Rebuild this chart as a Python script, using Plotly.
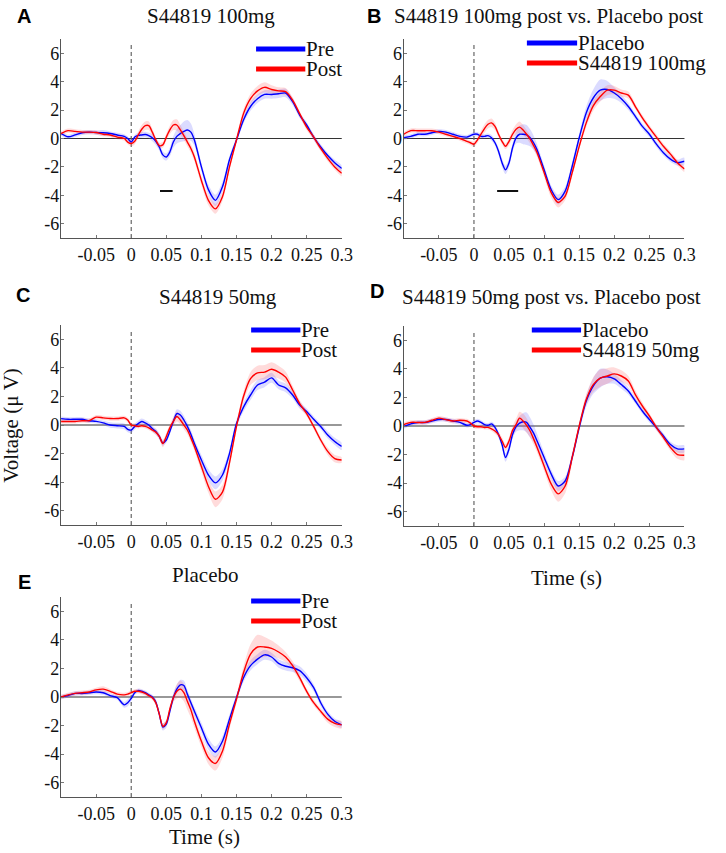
import plotly.graph_objects as go

W, H = 726, 853

# ---------------- data ----------------
T = [-0.1, -0.09, -0.08, -0.07, -0.06, -0.05, -0.04, -0.03, -0.02, -0.01,
     -0.005, 0, 0.005, 0.01, 0.015, 0.02, 0.025, 0.03, 0.035, 0.04,
     0.045, 0.05, 0.055, 0.06, 0.065, 0.07, 0.075, 0.08, 0.085, 0.09,
     0.1, 0.11, 0.12, 0.13, 0.14, 0.15, 0.16, 0.17, 0.18, 0.19,
     0.2, 0.21, 0.22, 0.23, 0.24, 0.25, 0.26, 0.27, 0.28, 0.29, 0.3]

A_pre = [0.35, 0.12, 0.25, 0.4, 0.45, 0.42, 0.4, 0.35, 0.25, 0.15,
         0.0, -0.25, 0.1, 0.22, 0.25, 0.28, 0.2, 0.05, -0.2, -0.6,
         -1.15, -1.3, -0.95, -0.25, 0.15, 0.35, 0.5, 0.6, 0.45, -0.1,
         -2.0, -3.6, -4.35, -3.4, -1.5, -0.1, 1.3, 2.25, 2.8, 3.1,
         3.1, 3.15, 3.2, 2.6, 1.65, 0.95, 0.1, -0.6, -1.2, -1.7, -2.1]
A_pre_sem = [0.15, 0.15, 0.15, 0.15, 0.15, 0.15, 0.2, 0.15, 0.15, 0.15,
             0.15, 0.15, 0.15, 0.2, 0.2, 0.2, 0.2, 0.25, 0.25, 0.25,
             0.25, 0.25, 0.3, 0.4, 0.5, 0.6, 0.7, 0.7, 0.6, 0.4,
             0.3, 0.35, 0.4, 0.35, 0.25, 0.2, 0.25, 0.3, 0.3, 0.3,
             0.3, 0.3, 0.3, 0.25, 0.2, 0.2, 0.2, 0.2, 0.2, 0.2, 0.2]
A_post = [0.35, 0.55, 0.5, 0.45, 0.45, 0.42, 0.3, 0.25, 0.1, 0.0,
          -0.25, -0.35, -0.2, 0.25, 0.65, 0.9, 0.9, 0.45, -0.1, -0.5,
          -0.45, 0.1, 0.6, 0.95, 0.95, 0.6, 0.2, -0.25, -0.7, -1.3,
          -2.95, -4.35, -4.95, -4.1, -2.0, -0.1, 1.75, 2.8, 3.35, 3.6,
          3.45, 3.35, 3.3, 2.7, 1.75, 0.8, 0.1, -0.7, -1.4, -2.0, -2.45]
A_post_sem = [0.15, 0.15, 0.15, 0.15, 0.15, 0.15, 0.15, 0.15, 0.15, 0.15,
              0.15, 0.2, 0.2, 0.25, 0.3, 0.3, 0.3, 0.25, 0.2, 0.2,
              0.2, 0.25, 0.3, 0.35, 0.4, 0.35, 0.3, 0.3, 0.3, 0.3,
              0.3, 0.35, 0.35, 0.3, 0.25, 0.2, 0.3, 0.35, 0.35, 0.35,
              0.3, 0.25, 0.25, 0.2, 0.2, 0.2, 0.2, 0.2, 0.2, 0.2, 0.2]

B_pla = [0.05, 0.15, 0.3, 0.3, 0.4, 0.5, 0.45, 0.3, 0.15, 0.1,
         0.2, 0.3, 0.3, 0.15, 0.15, 0.2, 0.05, -0.3, -0.9, -1.7,
         -2.2, -1.7, -0.65, 0.05, 0.3, 0.3, 0.25, 0.05, -0.3, -0.8,
         -2.2, -3.6, -4.3, -3.7, -1.95, 0.05, 1.8, 2.85, 3.4, 3.45,
         3.2, 2.8, 2.25, 1.55, 0.85, 0.3, -0.4, -1.0, -1.45, -1.7, -1.6]
B_pla_sem = [0.15, 0.15, 0.15, 0.15, 0.15, 0.15, 0.15, 0.15, 0.15, 0.15,
             0.15, 0.15, 0.15, 0.15, 0.15, 0.15, 0.2, 0.2, 0.25, 0.3,
             0.3, 0.3, 0.3, 0.4, 0.6, 0.7, 0.7, 0.6, 0.5, 0.4,
             0.3, 0.3, 0.35, 0.3, 0.3, 0.3, 0.45, 0.6, 0.75, 0.6,
             0.4, 0.3, 0.25, 0.2, 0.2, 0.2, 0.2, 0.2, 0.2, 0.2, 0.25]
B_drug = [0.3, 0.55, 0.55, 0.55, 0.55, 0.45, 0.3, 0.15, 0.0, -0.2,
          -0.3, -0.4, -0.1, 0.3, 0.7, 1.0, 1.1, 0.85, 0.3, -0.2,
          -0.55, -0.2, 0.3, 0.65, 0.8, 0.6, 0.3, -0.05, -0.5, -1.0,
          -2.4, -3.8, -4.5, -4.05, -2.4, -0.55, 1.1, 2.3, 2.95, 3.4,
          3.4, 3.2, 3.05, 2.25, 1.45, 0.75, 0.1, -0.55, -1.1, -1.7, -2.15]
B_drug_sem = [0.15, 0.15, 0.15, 0.15, 0.15, 0.15, 0.15, 0.15, 0.15, 0.15,
              0.15, 0.2, 0.2, 0.25, 0.3, 0.3, 0.3, 0.25, 0.2, 0.2,
              0.2, 0.25, 0.3, 0.35, 0.4, 0.35, 0.3, 0.3, 0.3, 0.3,
              0.3, 0.35, 0.35, 0.3, 0.25, 0.2, 0.3, 0.35, 0.35, 0.35,
              0.3, 0.25, 0.25, 0.2, 0.2, 0.2, 0.2, 0.2, 0.2, 0.2, 0.2]

C_pre = [0.45, 0.4, 0.4, 0.4, 0.3, 0.25, 0.15, 0.0, -0.05, -0.1,
         -0.3, -0.35, -0.1, 0.1, 0.25, 0.15, 0.0, -0.25, -0.45, -0.8,
         -1.25, -1.05, -0.45, 0.25, 0.8, 0.7, 0.35, -0.1, -0.65, -1.3,
         -2.45, -3.5, -4.05, -3.5, -2.0, 0.1, 1.25, 2.1, 2.8, 3.0,
         3.3, 2.8, 2.6, 2.1, 1.4, 0.95, 0.4, -0.1, -0.7, -1.15, -1.5]
C_pre_sem = [0.15, 0.15, 0.15, 0.15, 0.15, 0.15, 0.15, 0.2, 0.2, 0.2,
             0.2, 0.2, 0.2, 0.2, 0.2, 0.2, 0.2, 0.2, 0.2, 0.2,
             0.2, 0.2, 0.2, 0.25, 0.3, 0.3, 0.3, 0.3, 0.3, 0.3,
             0.35, 0.4, 0.45, 0.4, 0.3, 0.25, 0.3, 0.35, 0.35, 0.35,
             0.35, 0.3, 0.3, 0.25, 0.25, 0.2, 0.2, 0.2, 0.25, 0.25, 0.25]
C_post = [0.25, 0.25, 0.25, 0.3, 0.3, 0.55, 0.5, 0.45, 0.45, 0.5,
          0.35, 0.0, -0.05, -0.1, -0.05, -0.1, -0.2, -0.35, -0.5, -0.8,
          -1.3, -0.8, -0.2, 0.25, 0.6, 0.35, 0.0, -0.35, -0.9, -1.5,
          -2.9, -4.3, -5.2, -4.7, -2.65, -0.1, 2.0, 3.25, 3.65, 3.7,
          3.9, 3.7, 3.35, 2.45, 1.5, 0.8, -0.1, -1.05, -1.85, -2.35, -2.45]
C_post_sem = [0.15, 0.15, 0.15, 0.15, 0.15, 0.15, 0.15, 0.15, 0.15, 0.15,
              0.15, 0.15, 0.15, 0.15, 0.15, 0.15, 0.15, 0.15, 0.2, 0.2,
              0.25, 0.25, 0.25, 0.3, 0.35, 0.3, 0.3, 0.3, 0.3, 0.3,
              0.35, 0.45, 0.55, 0.5, 0.35, 0.25, 0.35, 0.45, 0.5, 0.5,
              0.5, 0.45, 0.4, 0.3, 0.25, 0.2, 0.2, 0.2, 0.25, 0.25, 0.2]

D_pla = [-0.05, 0.15, 0.25, 0.25, 0.35, 0.45, 0.45, 0.35, 0.25, 0.05,
         0.1, 0.25, 0.35, 0.25, 0.1, 0.05, 0.15, -0.1, -0.6, -1.3,
         -2.2, -1.6, -0.6, -0.05, 0.2, 0.3, 0.25, -0.1, -0.5, -1.05,
         -2.2, -3.35, -4.2, -3.85, -2.2, -0.1, 1.75, 2.8, 3.35, 3.45,
         3.3, 2.9, 2.45, 1.75, 1.05, 0.45, -0.1, -0.7, -1.3, -1.6, -1.6]
D_pla_sem = [0.15, 0.15, 0.15, 0.15, 0.15, 0.15, 0.15, 0.15, 0.15, 0.15,
             0.15, 0.15, 0.15, 0.15, 0.15, 0.15, 0.15, 0.2, 0.2, 0.25,
             0.3, 0.3, 0.3, 0.35, 0.5, 0.6, 0.7, 0.7, 0.6, 0.5,
             0.35, 0.3, 0.35, 0.3, 0.3, 0.3, 0.4, 0.55, 0.65, 0.5,
             0.35, 0.3, 0.25, 0.2, 0.2, 0.2, 0.2, 0.2, 0.2, 0.25, 0.25]
D_drug = [0.1, 0.25, 0.25, 0.25, 0.4, 0.55, 0.45, 0.35, 0.4, 0.35,
          0.2, 0.0, -0.05, -0.05, -0.1, -0.1, -0.2, -0.35, -0.6, -1.05,
          -1.5, -1.05, -0.3, 0.1, 0.55, 0.35, 0.05, -0.35, -0.9, -1.5,
          -2.8, -4.05, -4.75, -4.2, -2.2, 0.0, 1.85, 2.9, 3.35, 3.5,
          3.65, 3.5, 3.15, 2.2, 1.4, 0.7, -0.1, -0.8, -1.5, -2.0, -2.05]
D_drug_sem = [0.15, 0.15, 0.15, 0.15, 0.15, 0.15, 0.15, 0.15, 0.15, 0.15,
              0.15, 0.15, 0.15, 0.15, 0.15, 0.15, 0.15, 0.2, 0.2, 0.25,
              0.25, 0.25, 0.3, 0.4, 0.45, 0.5, 0.5, 0.45, 0.4, 0.35,
              0.35, 0.45, 0.55, 0.5, 0.35, 0.25, 0.35, 0.5, 0.6, 0.55,
              0.45, 0.4, 0.35, 0.3, 0.25, 0.2, 0.2, 0.2, 0.25, 0.3, 0.35]

E_pre = [0.0, 0.1, 0.25, 0.25, 0.3, 0.35, 0.3, 0.1, -0.05, -0.55,
         -0.4, -0.1, 0.3, 0.45, 0.4, 0.3, 0.15, 0.0, -0.35, -1.2,
         -2.1, -1.9, -1.0, -0.05, 0.55, 0.85, 0.8, 0.2, -0.4, -1.0,
         -2.15, -3.3, -3.85, -3.1, -1.55, -0.05, 1.35, 2.2, 2.65, 2.95,
         2.8, 2.35, 2.15, 2.05, 1.85, 1.35, 0.65, -0.4, -1.2, -1.7, -1.95]
E_pre_sem = [0.15, 0.15, 0.15, 0.15, 0.15, 0.15, 0.15, 0.15, 0.15, 0.2,
             0.25, 0.2, 0.15, 0.15, 0.15, 0.15, 0.15, 0.15, 0.2, 0.2,
             0.25, 0.25, 0.25, 0.3, 0.3, 0.35, 0.35, 0.3, 0.3, 0.3,
             0.35, 0.4, 0.4, 0.35, 0.3, 0.25, 0.3, 0.35, 0.35, 0.35,
             0.3, 0.3, 0.3, 0.3, 0.3, 0.3, 0.25, 0.25, 0.2, 0.2, 0.2]
E_post = [0.0, 0.15, 0.25, 0.3, 0.35, 0.5, 0.55, 0.4, 0.2, 0.15,
          0.2, 0.3, 0.4, 0.4, 0.35, 0.25, 0.1, -0.05, -0.4, -1.2,
          -2.05, -1.8, -0.85, -0.05, 0.4, 0.55, 0.3, -0.3, -0.9, -1.7,
          -3.1, -4.25, -4.65, -3.8, -1.9, -0.15, 1.7, 3.0, 3.5, 3.5,
          3.4, 3.15, 2.8, 2.2, 1.35, 0.4, -0.4, -1.0, -1.55, -1.85, -1.95]
E_post_sem = [0.15, 0.15, 0.15, 0.15, 0.15, 0.15, 0.2, 0.15, 0.15, 0.15,
              0.15, 0.15, 0.15, 0.15, 0.15, 0.15, 0.15, 0.15, 0.2, 0.2,
              0.2, 0.2, 0.25, 0.3, 0.5, 0.6, 0.6, 0.6, 0.55, 0.45,
              0.4, 0.45, 0.5, 0.45, 0.35, 0.3, 0.45, 0.7, 0.85, 0.7,
              0.55, 0.45, 0.35, 0.3, 0.25, 0.2, 0.2, 0.2, 0.25, 0.25, 0.25]

# significant windows (s) and marker level (uV)
A_sig = [0.041, 0.059]
B_sig = [0.033, 0.063]
SIG_LEVEL = -3.7

TITLES = ["S44819 100mg", "S44819 100mg post vs. Placebo post",
          "S44819 50mg", "S44819 50mg post vs. Placebo post", "Placebo"]
LETTERS = ["A", "B", "C", "D", "E"]
LEGENDS = [("Pre", "Post"), ("Placebo", "S44819 100mg"), ("Pre", "Post"),
           ("Placebo", "S44819 50mg"), ("Pre", "Post")]

X_TICKS = [-0.05, 0, 0.05, 0.1, 0.15, 0.2, 0.25, 0.3]
X_TICKTEXT = ["-0.05", "0", "0.05", "0.1", "0.15", "0.2", "0.25", "0.3"]
Y_TICKS = [-6, -4, -2, 0, 2, 4, 6]
Y_TICKTEXT = ["-6", "-4", "-2", "0", "2", "4", "6"]

SERIES = [(A_pre, A_pre_sem, A_post, A_post_sem, A_sig),
          (B_pla, B_pla_sem, B_drug, B_drug_sem, B_sig),
          (C_pre, C_pre_sem, C_post, C_post_sem, None),
          (D_pla, D_pla_sem, D_drug, D_drug_sem, None),
          (E_pre, E_pre_sem, E_post, E_post_sem, None)]

# ---------------- layout geometry (pixels) ----------------
BOXES = [(62, 347, 39, 238), (410, 695, 39, 238),
         (62, 347, 325, 525), (410, 695, 326, 526),
         (62, 347, 597, 797)]
TITLE_POS = [(214, 16), (557, 16), (221, 297), (560, 297), (208, 575)]
LETTER_POS = [(24, 16), (380, 16), (23, 295), (383, 291), (25, 582)]
LEG_POS = [(260, 310, 49, 69), (535, 586, 43, 63), (255, 305, 330, 350),
           (540, 590, 330, 350), (255, 305, 601, 621)]

SERIF = "Liberation Serif"
SANS = "Liberation Sans"
BLUE = "#0000ff"
RED = "#ff0000"
BLUE_BAND = "rgba(90,90,255,0.22)"
RED_BAND = "rgba(255,90,90,0.22)"


def px(x):
    return x / W


def py(y):
    return 1 - y / H


fig = go.Figure()
shapes = []
annotations = []
layout_axes = {}

for i, (box, (b, bs, r, rs, sig)) in enumerate(zip(BOXES, SERIES)):
    n = i + 1
    xa = "x" if n == 1 else f"x{n}"
    ya = "y" if n == 1 else f"y{n}"
    xkey = "xaxis" if n == 1 else f"xaxis{n}"
    ykey = "yaxis" if n == 1 else f"yaxis{n}"
    x0, x1, y0, y1 = box

    for vals, sem, band in ((b, bs, BLUE_BAND), (r, rs, RED_BAND)):
        upper = [v + s for v, s in zip(vals, sem)]
        lower = [v - s for v, s in zip(vals, sem)]
        fig.add_trace(go.Scatter(
            x=T + T[::-1], y=upper + lower[::-1], fill="toself",
            fillcolor=band, line=dict(width=0, shape="spline", smoothing=0.8),
            mode="lines", hoverinfo="skip", showlegend=False,
            xaxis=xa, yaxis=ya))
    for vals, col, name in ((b, BLUE, LEGENDS[i][0]), (r, RED, LEGENDS[i][1])):
        fig.add_trace(go.Scatter(
            x=T, y=vals, mode="lines", name=name,
            line=dict(color=col, width=1.4, shape="spline", smoothing=0.8),
            showlegend=False, xaxis=xa, yaxis=ya))
    if sig is not None:
        fig.add_trace(go.Scatter(
            x=sig, y=[SIG_LEVEL, SIG_LEVEL], mode="lines",
            line=dict(color="#111111", width=2), showlegend=False,
            xaxis=xa, yaxis=ya))

    layout_axes[xkey] = dict(
        domain=[px(x0), px(x1)], anchor=ya, range=[-0.1, 0.3],
        tickvals=X_TICKS, ticktext=X_TICKTEXT, showgrid=False, zeroline=False,
        showline=True, linecolor="#555555", linewidth=1.3, ticks="inside",
        ticklen=3, tickcolor="#777777", ticklabelstandoff=0,
        tickfont=dict(family=SERIF, size=18, color="#111111"))
    layout_axes[ykey] = dict(
        domain=[py(y1), py(y0)], anchor=xa, range=[-7, 7],
        tickvals=Y_TICKS, ticktext=Y_TICKTEXT, showgrid=False, zeroline=False,
        showline=True, linecolor="#555555", linewidth=1.3, ticks="inside",
        ticklen=3, tickcolor="#777777", ticklabelstandoff=-3,
        tickfont=dict(family=SERIF, size=18, color="#111111"))

    # zero line and stimulus onset
    shapes.append(dict(type="line", xref=f"{xa} domain", yref=ya,
                       x0=0, x1=1, y0=0, y1=0,
                       line=dict(color="#333333", width=1.1), layer="below"))
    shapes.append(dict(type="line", xref=xa, yref=f"{ya} domain",
                       x0=0, x1=0, y0=0, y1=0.97,
                       line=dict(color="#666666", width=1.2, dash="4px,3px"),
                       layer="below"))

    # legend
    lx0, lx1, ly0, ly1 = LEG_POS[i]
    for ly, col, txt in ((ly0, BLUE, LEGENDS[i][0]), (ly1, RED, LEGENDS[i][1])):
        shapes.append(dict(type="line", xref="paper", yref="paper",
                           x0=px(lx0), x1=px(lx1), y0=py(ly), y1=py(ly),
                           line=dict(color=col, width=5)))
        annotations.append(dict(text=txt, xref="paper", yref="paper",
                                x=px(lx1), y=py(ly), xanchor="left",
                                yanchor="middle", showarrow=False, borderpad=0,
                                font=dict(family=SERIF, size=21, color="#111111")))

    tx, ty = TITLE_POS[i]
    annotations.append(dict(text=TITLES[i], xref="paper", yref="paper",
                            x=px(tx), y=py(ty), xanchor="center", yanchor="middle",
                            showarrow=False,
                            font=dict(family=SERIF, size=21, color="#111111")))
    lx, lyy = LETTER_POS[i]
    annotations.append(dict(text="<b>" + LETTERS[i] + "</b>", xref="paper", yref="paper",
                            x=px(lx), y=py(lyy), xanchor="center", yanchor="middle",
                            showarrow=False,
                            font=dict(family=SANS, size=20, color="#000000")))

# axis titles
annotations.append(dict(text="Voltage (\u03bc V)", xref="paper", yref="paper",
                        x=px(11), y=py(425), textangle=-90, xanchor="center",
                        yanchor="middle", showarrow=False,
                        font=dict(family=SERIF, size=21, color="#111111")))
annotations.append(dict(text="Time (s)", xref="paper", yref="paper",
                        x=px(575), y=py(578), xanchor="center", yanchor="middle",
                        showarrow=False,
                        font=dict(family=SERIF, size=21, color="#111111")))
annotations.append(dict(text="Time (s)", xref="paper", yref="paper",
                        x=px(208), y=py(837), xanchor="center", yanchor="middle",
                        showarrow=False,
                        font=dict(family=SERIF, size=21, color="#111111")))

fig.update_layout(width=W, height=H, margin=dict(l=0, r=0, t=0, b=0),
                  paper_bgcolor="white", plot_bgcolor="white",
                  showlegend=False, shapes=shapes, annotations=annotations,
                  **layout_axes)

fig.write_html("out.html", config={"displayModeBar": False},
               post_script="document.body.style.margin='0';"
                           "document.body.style.overflow='hidden';")
